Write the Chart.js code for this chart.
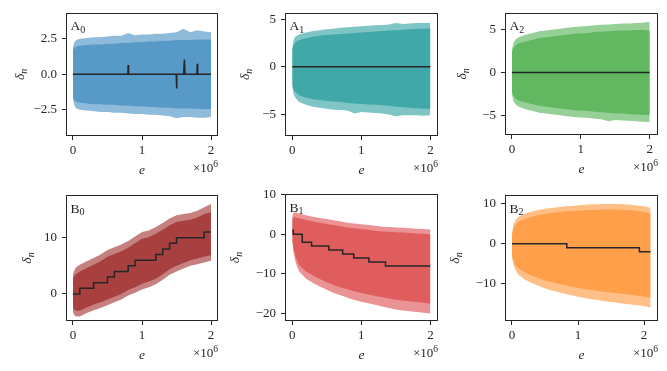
<!DOCTYPE html>
<html><head><meta charset="utf-8">
<script src="https://cdn.jsdelivr.net/npm/chart.js@4/dist/chart.umd.min.js"></script>
<style>html,body{margin:0;padding:0;background:#fff;}#wrap{position:relative;width:667px;height:371px;overflow:hidden;}canvas{position:absolute;left:0;top:0;}</style>
</head><body><div id="wrap"></div>
<script>
// e values in units of 10^6
const eGrid   = [0,0.02,0.05,0.1,0.2,0.3,0.4,0.5,0.6,0.7,0.8,0.9,1.0,1.1,1.2,1.3,1.4,1.5,1.6,1.7,1.8,1.9,2.0];
const eGridB2 = [0,0.02,0.05,0.1,0.2,0.3,0.4,0.5,0.6,0.7,0.8,0.9,1.0,1.1,1.2,1.3,1.4,1.5,1.6,1.7,1.8,1.9,2.0,2.1];
const xTicks = [0,1,2];
const xTickLabels = ['0','1','2'];

// A0
const a0CoreHi = [1.7,1.85,1.95,2.0,2.05,2.1,2.1,2.15,2.15,2.2,2.2,2.25,2.25,2.3,2.3,2.35,2.35,2.4,2.4,2.4,2.45,2.45,2.45];
const a0CoreLo = [-1.6,-1.8,-1.95,-2.0,-2.05,-2.1,-2.1,-2.15,-2.15,-2.2,-2.2,-2.25,-2.25,-2.3,-2.3,-2.35,-2.35,-2.4,-2.4,-2.4,-2.45,-2.45,-2.45];
const a0OutHi = [1.9,2.25,2.4,2.5,2.55,2.6,2.6,2.65,2.7,2.7,2.9,2.75,2.8,2.8,2.85,2.85,2.9,2.95,3.2,2.95,3.1,3.0,2.95];
const a0OutLo = [-1.8,-2.2,-2.4,-2.5,-2.55,-2.6,-2.65,-2.65,-2.7,-2.7,-2.75,-2.8,-2.8,-2.85,-2.85,-2.9,-2.95,-3.1,-3.0,-3.0,-3.05,-3.05,-3.0];
const a0LineE = [0,0.795,0.8,0.806,1.494,1.5,1.506,1.603,1.613,1.623,1.794,1.8,1.806,2.0];
const a0LineD = [0,0,0.65,0,0,-1.0,0,0,1.03,0,0,0.73,0,0];
// A1
const a1CoreHi = [1.8,2.3,2.6,2.8,3.0,3.15,3.25,3.35,3.4,3.45,3.5,3.55,3.6,3.65,3.7,3.75,3.8,3.85,3.9,3.95,4.0,4.0,4.05];
const a1CoreLo = [-1.9,-2.4,-2.7,-3.0,-3.25,-3.4,-3.5,-3.6,-3.65,-3.7,-3.8,-3.85,-3.9,-3.95,-4.0,-4.05,-4.1,-4.2,-4.25,-4.3,-4.35,-4.4,-4.4];
const a1OutHi = [2.0,2.8,3.2,3.4,3.6,3.75,3.85,3.95,4.0,4.1,4.15,4.2,4.25,4.3,4.35,4.4,4.45,4.6,4.5,4.55,4.6,4.6,4.6];
const a1OutLo = [-2.1,-2.9,-3.3,-3.7,-4.0,-4.2,-4.3,-4.4,-4.5,-4.55,-4.6,-4.9,-4.75,-4.8,-4.85,-4.9,-5.0,-5.2,-5.1,-5.1,-5.1,-5.15,-5.1];
const a1LineE = [0,2.0];
const a1LineD = [0,0];
// A2
const a2CoreHi = [2.3,2.8,3.1,3.4,3.6,3.8,4.0,4.1,4.2,4.3,4.4,4.5,4.55,4.6,4.7,4.75,4.8,4.85,4.9,4.9,4.95,4.95,4.85];
const a2CoreLo = [-2.2,-2.7,-3.0,-3.3,-3.5,-3.7,-3.9,-4.0,-4.1,-4.2,-4.3,-4.4,-4.45,-4.5,-4.6,-4.65,-4.7,-4.75,-4.8,-4.85,-4.9,-4.95,-5.0];
const a2OutHi = [2.6,3.4,3.8,4.1,4.4,4.6,4.8,4.9,5.0,5.1,5.2,5.3,5.35,5.4,5.5,5.55,5.6,5.65,5.7,5.7,5.75,5.8,5.9];
const a2OutLo = [-2.5,-3.3,-3.7,-4.0,-4.3,-4.5,-4.7,-4.8,-4.9,-5.0,-5.1,-5.2,-5.25,-5.3,-5.4,-5.45,-5.7,-5.55,-5.6,-5.65,-5.7,-5.75,-5.8];
const a2LineE = [0,2.0];
const a2LineD = [0,0];
// B0
const b0CoreHi = [2.6,3.2,3.6,4.0,4.6,5.2,5.8,6.6,7.1,7.6,8.2,9.0,9.8,10.1,10.7,11.4,12.2,12.8,13.0,13.2,13.6,14.2,14.6];
const b0CoreLo = [-2.4,-2.8,-3.0,-3.0,-2.4,-1.9,-1.5,-1.0,-0.5,0.0,0.7,1.2,1.8,2.2,2.7,3.5,4.4,5.0,5.5,6.0,6.3,6.6,6.9];
const b0OutHi = [3.4,4.2,4.8,5.2,5.8,6.4,7.0,7.8,8.3,8.8,9.4,10.2,11.0,11.3,11.9,12.6,13.4,14.0,14.2,14.4,14.8,15.4,16.0];
const b0OutLo = [-3.2,-3.8,-4.0,-4.0,-3.4,-2.9,-2.5,-2.0,-1.5,-1.0,-0.3,0.2,0.8,1.2,1.7,2.5,3.4,4.0,4.5,5.0,5.3,5.6,5.9];
const b0LineE = [0,0.1,0.3,0.5,0.6,0.8,0.9,1.2,1.3,1.4,1.5,1.9,2.0];
const b0LineD = [0,1,2,3,4,5,6,7,8,9,10,11,11];
// B1
const b1CoreHi = [3.8,4.3,4.3,4.0,3.6,3.2,2.9,2.6,2.3,2.0,1.7,1.5,1.3,1.1,0.9,0.7,0.6,0.5,0.4,0.3,0.2,0.1,0.0];
const b1CoreLo = [-1.5,-3.8,-5.8,-7.8,-9.4,-10.4,-11.3,-12.1,-12.8,-13.4,-13.9,-14.4,-14.8,-15.2,-15.6,-15.9,-16.2,-16.5,-16.7,-16.9,-17.1,-17.3,-17.5];
const b1OutHi = [4.6,5.5,5.5,5.2,4.8,4.4,4.1,3.8,3.5,3.2,2.9,2.7,2.5,2.3,2.1,1.9,1.8,1.7,1.6,1.5,1.4,1.3,1.2];
const b1OutLo = [-2.0,-4.8,-7.2,-9.4,-11.2,-12.3,-13.2,-14.0,-14.8,-15.4,-16.0,-16.6,-17.0,-17.4,-17.8,-18.2,-18.6,-19.0,-19.2,-19.4,-19.6,-19.8,-20.0];
const b1LineE = [0,0.015,0.145,0.28,0.53,0.73,0.89,1.11,1.35,2.0];
const b1LineD = [1,0,-2,-3,-4,-5,-6,-7,-8,-8];
// B2
const b2CoreHi = [2.0,3.8,4.8,5.6,6.3,6.8,7.2,7.5,7.7,7.9,8.1,8.2,8.3,8.4,8.5,8.5,8.6,8.6,8.6,8.5,8.4,8.2,8.0,7.6];
const b2CoreLo = [-2.8,-4.2,-5.2,-6.2,-7.2,-8.0,-8.6,-9.2,-9.6,-10.0,-10.4,-10.7,-11.0,-11.3,-11.6,-11.8,-12.0,-12.2,-12.4,-12.6,-12.8,-13.0,-13.2,-13.5];
const b2OutHi = [2.6,4.8,5.9,6.8,7.6,8.1,8.5,8.8,9.0,9.2,9.4,9.5,9.7,9.8,9.9,9.9,10.0,10.0,10.0,9.9,9.8,9.6,9.4,9.0];
const b2OutLo = [-3.4,-5.2,-6.5,-7.8,-9.0,-9.8,-10.5,-11.2,-11.7,-12.1,-12.5,-12.9,-13.3,-13.6,-13.9,-14.1,-14.4,-14.6,-14.8,-15.0,-15.2,-15.4,-15.6,-16.0];
const b2LineE = [0,0.83,1.93,2.1];
const b2LineD = [0,-1,-2,-2];

// tick values / labels
const a0YTicks = [-2.5,0,2.5], a0YLabels = ['\u22122.5','0.0','2.5'];
const a1YTicks = [-5,0,5],     a1YLabels = ['\u22125','0','5'];
const a2YTicks = [-5,0,5],     a2YLabels = ['\u22125','0','5'];
const b0YTicks = [0,10],       b0YLabels = ['0','10'];
const b1YTicks = [-20,-10,0,10], b1YLabels = ['\u221220','\u221210','0','10'];
const b2YTicks = [-10,0,10],   b2YLabels = ['\u221210','0','10'];

const panels = [
  {lab:['A','0'], L:66, R:218, T:9,  B:136, yt:20,  e:eGrid, hi:a0CoreHi, lo:a0CoreLo, oh:a0OutHi, ol:a0OutLo, le:a0LineE, ld:a0LineD, stepped:false,
   yMin:-4.34, yMax:4.32, xMin:-0.1, xMax:2.1, yTicks:a0YTicks, yLabels:a0YLabels, core:'#5799c7', outer:'#8fbbda'},
  {lab:['A','1'], L:285, R:438, T:9, B:136, yt:245, e:eGrid, hi:a1CoreHi, lo:a1CoreLo, oh:a1OutHi, ol:a1OutLo, le:a1LineE, ld:a1LineD, stepped:false,
   yMin:-7.27, yMax:5.67, xMin:-0.105, xMax:2.11, yTicks:a1YTicks, yLabels:a1YLabels, core:'#40a8a8', outer:'#80c5c5'},
  {lab:['A','2'], L:505, R:658, T:10, B:135, yt:462, e:eGrid, hi:a2CoreHi, lo:a2CoreLo, oh:a2OutHi, ol:a2OutLo, le:a2LineE, ld:a2LineD, stepped:false,
   yMin:-7.3, yMax:6.95, xMin:-0.1, xMax:2.12, yTicks:a2YTicks, yLabels:a2YLabels, core:'#61b861', outer:'#96d096'},
  {lab:['B','0'], L:66, R:218, T:195, B:321, yt:27, e:eGrid, hi:b0CoreHi, lo:b0CoreLo, oh:b0OutHi, ol:b0OutLo, le:b0LineE, ld:b0LineD, stepped:true,
   yMin:-4.82, yMax:17.6, xMin:-0.1, xMax:2.1, yTicks:b0YTicks, yLabels:b0YLabels, core:'#a84040', outer:'#c58080'},
  {lab:['B','1'], L:285, R:438, T:194, B:321, yt:235, e:eGrid, hi:b1CoreHi, lo:b1CoreLo, oh:b1OutHi, ol:b1OutLo, le:b1LineE, ld:b1LineD, stepped:true,
   yMin:-21.87, yMax:10.13, xMin:-0.105, xMax:2.11, yTicks:b1YTicks, yLabels:b1YLabels, core:'#e05d5e', outer:'#eb9394'},
  {lab:['B','2'], L:505, R:658, T:195, B:321, yt:455, e:eGridB2, hi:b2CoreHi, lo:b2CoreLo, oh:b2OutHi, ol:b2OutLo, le:b2LineE, ld:b2LineD, stepped:true,
   yMin:-19.35, yMax:12.24, xMin:-0.106, xMax:2.212, yTicks:b2YTicks, yLabels:b2YLabels, core:'#ff9f4a', outer:'#ffbf87'}
];

const FONT = '"Liberation Serif", "DejaVu Serif", serif';
const INK = '#262626';
const YW = 40, XH = 30;
const wrap = document.getElementById('wrap');

function pts(xs, ys) { return xs.map((x, i) => ({x: x, y: ys[i]})); }

const decor = {
  id: 'decor',
  afterDraw(chart, args, o) {
    const p = o.p;
    const ca = chart.chartArea;
    const ctx = chart.ctx;
    ctx.save();
    ctx.strokeStyle = INK;
    ctx.lineWidth = 1;
    ctx.strokeRect(Math.round(ca.left) + 0.5, Math.round(ca.top) + 0.5, Math.round(ca.right - ca.left) - 1, Math.round(ca.bottom - ca.top) - 1);
    ctx.fillStyle = INK;
    ctx.textBaseline = 'alphabetic';
    ctx.textAlign = 'left';
    // panel label
    ctx.font = '13.5px ' + FONT;
    const lx = ca.left + 4.5, ly = ca.top + 17.5;
    ctx.fillText(p.lab[0], lx, ly);
    const w0 = ctx.measureText(p.lab[0]).width;
    ctx.font = '10px ' + FONT;
    ctx.fillText(p.lab[1], lx + w0, ly + 2.5);
    // y title delta_n
    const cy = (ca.top + ca.bottom) / 2;
    ctx.save();
    ctx.translate(p.yt + 4, cy);
    ctx.rotate(-Math.PI / 2);
    ctx.font = 'italic 13.5px ' + FONT;
    const wd = ctx.measureText('\u03b4').width;
    ctx.font = 'italic 10px ' + FONT;
    const wn = ctx.measureText('n').width;
    const sx = -(wd + wn) / 2;
    ctx.font = 'italic 13.5px ' + FONT;
    ctx.fillText('\u03b4', sx, 0);
    ctx.font = 'italic 10px ' + FONT;
    ctx.fillText('n', sx + wd, 2.5);
    ctx.restore();
    // x title e
    ctx.font = 'italic 13.5px ' + FONT;
    ctx.textAlign = 'center';
    ctx.fillText('e', (ca.left + ca.right) / 2, ca.bottom + 38);
    // offset text x10^6
    ctx.textAlign = 'right';
    ctx.font = '9.5px ' + FONT;
    const w6 = ctx.measureText('6').width;
    ctx.fillText('6', ca.right, ca.bottom + 31);
    ctx.font = '13px ' + FONT;
    ctx.fillText('\u00d710', ca.right - w6, ca.bottom + 36);
    ctx.restore();
  }
};

panels.forEach(p => {
  const cv = document.createElement('canvas');
  cv.width = 667; cv.height = 371;
  cv.style.width = '667px'; cv.style.height = '371px';
  wrap.appendChild(cv);
  const none = {borderWidth: 0, borderColor: 'rgba(0,0,0,0)', pointRadius: 0};
  new Chart(cv, {
    type: 'line',
    data: {datasets: [
      {data: pts(p.le, p.ld), borderColor: INK, borderWidth: 1.5, pointRadius: 0, stepped: p.stepped, fill: false, order: 0, tension: 0},
      Object.assign({data: pts(p.e, p.hi), backgroundColor: p.core, fill: '+1', order: 1}, none),
      Object.assign({data: pts(p.e, p.lo), fill: false, order: 1}, none),
      Object.assign({data: pts(p.e, p.oh), backgroundColor: p.outer, fill: '+1', order: 2}, none),
      Object.assign({data: pts(p.e, p.ol), fill: false, order: 2}, none)
    ]},
    options: {
      responsive: false, animation: false, events: [],
      layout: {padding: {left: p.L - YW, right: 667 - p.R, top: p.T, bottom: 371 - p.B - XH}},
      plugins: {legend: {display: false}, tooltip: {enabled: false}, decor: {p: p}},
      scales: {
        x: {type: 'linear', min: p.xMin, max: p.xMax,
          afterBuildTicks: s => { s.ticks = xTicks.map(v => ({value: v})); },
          afterFit: s => { s.height = XH; },
          grid: {drawOnChartArea: false, drawTicks: true, tickLength: 4, color: INK, lineWidth: 1},
          border: {display: false},
          ticks: {font: {family: FONT, size: 13}, color: INK, padding: 3, maxRotation: 0, autoSkip: false,
            callback: (v, i) => xTickLabels[i]}
        },
        y: {type: 'linear', min: p.yMin, max: p.yMax,
          afterBuildTicks: s => { s.ticks = p.yTicks.map(v => ({value: v})); },
          afterFit: s => { s.width = YW; },
          grid: {drawOnChartArea: false, drawTicks: true, tickLength: 4, color: INK, lineWidth: 1},
          border: {display: false},
          ticks: {font: {family: FONT, size: 13}, color: INK, padding: 5, autoSkip: false,
            callback: (v, i) => p.yLabels[i]}
        }
      }
    },
    plugins: [decor]
  });
});
</script>
</body></html>
